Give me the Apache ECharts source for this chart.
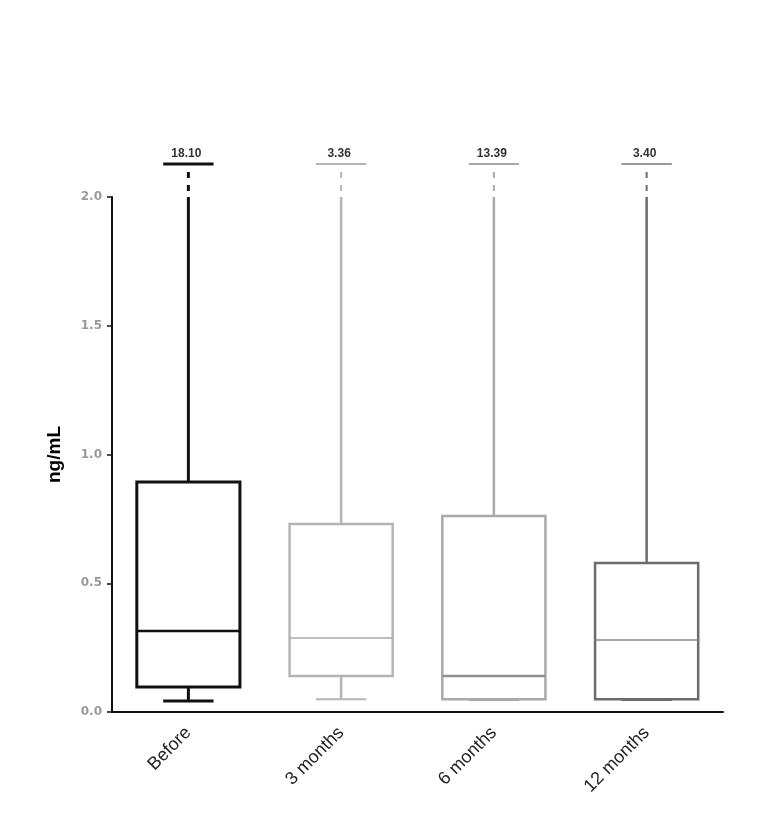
<!DOCTYPE html>
<html>
<head>
<meta charset="utf-8">
<style>
html,body{margin:0;padding:0;background:#fff;}
#chart{width:771px;height:836px;}
</style>
<script src="https://cdn.jsdelivr.net/npm/echarts@6/dist/echarts.min.js"></script>
</head>
<body>
<div id="chart"></div>
<script>
var categories = ['Before', '3 months', '6 months', '12 months'];
var minValues = [0.043, 0.050, 0.047, 0.047];
var q1Values = [0.097, 0.140, 0.050, 0.050];
var medianValues = [0.315, 0.287, 0.140, 0.280];
var q3Values = [0.893, 0.730, 0.761, 0.579];
var maxValues = [18.10, 3.36, 13.39, 3.40];
var yTicks = [0, 0.5, 1.0, 1.5, 2.0];

var boxColors = ['#111111', '#b4b4b4', '#a9a9a9', '#6b6b6b'];
var medianColors = ['#111111', '#a8a8a8', '#8f8f8f', '#8a8a8a'];
var capColors = ['#111111', '#9a9a9a', '#8a8a8a', '#777777'];
var lineWidths = [3, 2.5, 2.5, 2.5];
var medianWidths = [2.5, 1.5, 2.5, 1.5];
var axisTop = yTicks[yTicks.length - 1];

var seriesData = categories.map(function (c, i) {
  return [i, minValues[i], q1Values[i], medianValues[i], q3Values[i], maxValues[i]];
});

function renderItem(params, api) {
  var idx = api.value(0);
  var band = api.size([1, 0])[0];
  var boxW = band * 0.675;
  var capW = band * 0.33;
  var pMin = api.coord([idx, api.value(1)]);
  var pQ1 = api.coord([idx, api.value(2)]);
  var pMed = api.coord([idx, api.value(3)]);
  var pQ3 = api.coord([idx, api.value(4)]);
  var maxV = api.value(5);
  var pTop = api.coord([idx, Math.min(maxV, axisTop)]);
  var x = pQ1[0];
  var col = boxColors[idx];
  var lw = lineWidths[idx];
  var st = {stroke: col, lineWidth: lw, fill: null};
  var children = [];
  children.push({type: 'rect', shape: {x: x - boxW / 2, y: pQ3[1], width: boxW, height: pQ1[1] - pQ3[1]}, style: {stroke: col, lineWidth: lw, fill: '#fff'}});
  children.push({type: 'line', shape: {x1: x - boxW / 2, y1: pMed[1], x2: x + boxW / 2, y2: pMed[1]}, style: {stroke: medianColors[idx], lineWidth: medianWidths[idx]}});
  children.push({type: 'line', shape: {x1: x, y1: pQ1[1], x2: x, y2: pMin[1]}, style: st});
  children.push({type: 'line', shape: {x1: x - capW / 2, y1: pMin[1], x2: x + capW / 2, y2: pMin[1]}, style: {stroke: col, lineWidth: idx === 0 ? 3 : 2}});
  children.push({type: 'line', shape: {x1: x, y1: pQ3[1], x2: x, y2: pTop[1]}, style: st});
  if (maxV > axisTop) {
    children.push({type: 'line', shape: {x1: x, y1: pTop[1] - 6, x2: x, y2: pTop[1] - 26}, style: {stroke: col, lineWidth: idx === 0 ? 3 : 2, lineDash: [6, 7]}});
    var capY = pTop[1] - 33;
    children.push({type: 'line', shape: {x1: x - capW / 2, y1: capY, x2: x + capW / 2, y2: capY}, style: {stroke: capColors[idx], lineWidth: idx === 0 ? 3 : 1.5}});
    children.push({type: 'text', x: x - 2, y: capY - 4, style: {text: maxV.toFixed(2), textAlign: 'center', textVerticalAlign: 'bottom', fill: '#333', font: 'bold 12px "Liberation Sans", Arial, sans-serif'}});
  }
  return {type: 'group', children: children};
}

var chart = echarts.init(document.getElementById('chart'), null, {renderer: 'canvas'});
chart.setOption({
  backgroundColor: '#ffffff',
  animation: false,
  grid: {left: 112, right: 48, top: 197, bottom: 124, containLabel: false},
  xAxis: {
    type: 'category',
    data: categories,
    axisLine: {lineStyle: {color: '#111', width: 2}},
    axisTick: {alignWithLabel: true, length: 6, lineStyle: {color: '#111', width: 2}},
    axisLabel: {rotate: 45, color: '#222', fontSize: 18, fontFamily: '"Liberation Sans", Arial, sans-serif', margin: 18},
    splitLine: {show: false}
  },
  yAxis: {
    type: 'value',
    min: 0,
    max: axisTop,
    interval: 0.5,
    name: 'ng/mL',
    nameLocation: 'middle',
    nameGap: 48,
    nameTextStyle: {color: '#000', fontSize: 19, fontWeight: 'bold', fontFamily: '"Liberation Sans", Arial, sans-serif'},
    axisLine: {show: true, lineStyle: {color: '#111', width: 2}},
    axisTick: {show: true, length: 5, lineStyle: {color: '#111', width: 1.5}},
    axisLabel: {color: '#999', fontSize: 12, fontWeight: 'bold', fontFamily: '"DejaVu Sans", sans-serif', margin: 10, formatter: function (v) { return v.toFixed(1); }},
    splitLine: {show: false}
  },
  series: [{
    type: 'custom',
    renderItem: renderItem,
    clip: false,
    encode: {x: 0, y: [1, 2, 3, 4]},
    data: seriesData
  }]
});
</script>
</body>
</html>
